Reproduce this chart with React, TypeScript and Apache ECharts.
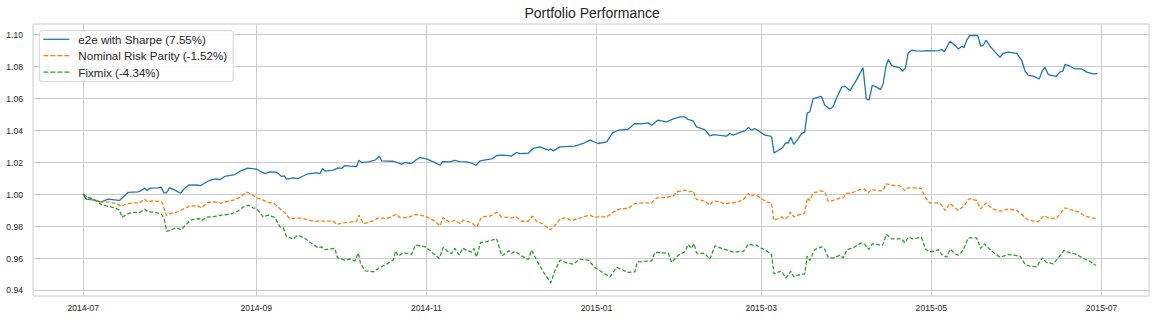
import React, { useEffect, useRef } from "react";
import * as echarts from "echarts";

// Data: [days since 2014-07-01, portfolio value]
const START_UTC = Date.UTC(2014, 6, 1);
const DAY_MS = 86400000;

const seriesNames = [
  "e2e with Sharpe (7.55%)",
  "Nominal Risk Parity (-1.52%)",
  "Fixmix (-4.34%)",
];
const seriesColors = ["#1f77b4", "#ff7f0e", "#2ca02c"];

const xTickLabels = ["2014-07", "2014-09", "2014-11", "2015-01", "2015-03", "2015-05", "2015-07"];
const yTickValues = [0.94, 0.96, 0.98, 1.0, 1.02, 1.04, 1.06, 1.08, 1.1];

const e2eSharpe: [number, number][] = [
  [0, 1.0], [1.1, 0.9971], [3.5, 0.9967], [6.5, 0.9954], [8.9, 0.9971], [11.2, 0.9967], [13.0, 0.9963], [16.0, 1.0013], [19.6, 1.0017], [20.8, 1.0025], [22.0, 1.004], [22.8, 1.0025], [24.1, 1.004], [26.8, 1.0042], [28.0, 1.0046], [28.9, 1.001], [29.8, 1.001], [31.0, 1.0042], [32.7, 1.0029], [34.9, 1.0008], [36.1, 1.0035], [37.8, 1.006], [41.1, 1.0058], [42.1, 1.0056], [44.7, 1.0083], [45.9, 1.0092], [47.7, 1.0098], [48.9, 1.0092], [50.7, 1.0113], [54.3, 1.0125], [56.6, 1.015], [59.0, 1.0165],
  [62.1, 1.0158], [65.1, 1.0131], [66.9, 1.0142], [69.3, 1.014], [71.1, 1.0113], [72.1, 1.0117], [72.9, 1.0096], [75.3, 1.0104], [77.1, 1.01], [80.1, 1.0127], [83.6, 1.0135], [84.8, 1.0131], [85.8, 1.0163], [86.6, 1.0146], [89.6, 1.0152], [91.4, 1.0167], [92.6, 1.0163], [93.8, 1.0181], [95.6, 1.0177], [98.0, 1.0175], [98.8, 1.0215], [99.8, 1.02], [102.2, 1.0204], [104.6, 1.0215], [106.1, 1.024], [107.0, 1.021], [111.1, 1.0208], [114.1, 1.019], [115.3, 1.02], [117.7, 1.0194], [119.5, 1.0219], [120.7, 1.0231],
  [123.1, 1.0223], [125.5, 1.0204], [127.9, 1.0183], [128.8, 1.0206], [131.4, 1.0204], [133.2, 1.0213], [135.0, 1.0206], [137.4, 1.0204], [139.2, 1.0196], [140.8, 1.0183], [142.2, 1.021], [146.4, 1.0223], [148.2, 1.0244], [150.6, 1.0246], [153.5, 1.024], [155.3, 1.0263], [156.5, 1.0256], [159.5, 1.0258], [161.3, 1.0288], [163.7, 1.0298], [166.7, 1.0277], [167.6, 1.0285], [168.5, 1.0273], [170.9, 1.0298], [176.2, 1.0302], [179.2, 1.0319], [181.6, 1.034],
  [184.6, 1.0319], [187.6, 1.0329], [189.7, 1.0385], [191.8, 1.0402], [195.3, 1.0408], [197.7, 1.0444], [200.1, 1.0442], [202.5, 1.0448], [203.7, 1.0433], [205.9, 1.0465], [209.1, 1.0454], [211.5, 1.0473], [213.9, 1.0485], [215.7, 1.0485], [216.8, 1.0469], [218.6, 1.046], [219.8, 1.0423], [222.8, 1.0406], [224.6, 1.0367], [225.8, 1.0375], [230.6, 1.0365], [231.8, 1.0381], [233.0, 1.0371], [235.4, 1.0388], [237.2, 1.0398], [238.4, 1.0419], [239.5, 1.0402], [240.7, 1.0413], [242.5, 1.0392],
  [244.3, 1.0371], [246.7, 1.0363], [247.6, 1.026], [249.1, 1.0275], [250.6, 1.0292], [251.8, 1.0323], [252.7, 1.0321], [253.6, 1.0358], [254.7, 1.0313], [256.2, 1.0348], [257.4, 1.0379], [258.6, 1.039], [259.5, 1.051], [260.4, 1.0515], [261.6, 1.06], [264.6, 1.0613], [265.8, 1.0558], [267.6, 1.0535], [268.8, 1.055], [270.2, 1.061], [271.8, 1.0671], [273.0, 1.0677], [274.8, 1.065], [277.1, 1.0715], [279.5, 1.0792], [280.7, 1.0596], [281.7, 1.0592], [282.8, 1.0683], [284.3, 1.0671], [285.8, 1.0656], [286.7, 1.0692], [287.7, 1.0802], [288.6, 1.0844], [289.8, 1.0806], [292.7, 1.0792], [293.6, 1.0771], [294.7, 1.0792], [295.7, 1.0885], [296.9, 1.0902], [298.7, 1.0898], [301.0, 1.0896], [302.2, 1.09], [305.2, 1.0898],
  [306.5, 1.09], [307.7, 1.0906], [308.6, 1.0892], [310.7, 1.0958], [312.5, 1.0931], [313.7, 1.091], [314.9, 1.0927], [315.7, 1.0917], [316.6, 1.0963], [317.8, 1.0994], [320.6, 1.0994], [321.7, 1.0927], [322.6, 1.0933], [323.6, 1.0965], [325.0, 1.0927], [326.8, 1.0892], [328.6, 1.0858], [329.8, 1.0883], [331.6, 1.089], [334.6, 1.0883], [336.4, 1.0838], [337.6, 1.0771], [338.7, 1.0746], [340.5, 1.074], [342.7, 1.0723], [343.8, 1.0775], [344.7, 1.0796], [345.9, 1.075], [348.7, 1.0738], [350.1, 1.0767], [351.1, 1.0771], [351.9, 1.0813], [353.7, 1.0802], [355.5, 1.0785], [357.9, 1.0785], [359.7, 1.0765], [362.0, 1.0754], [363.5, 1.0756],
];

const riskParity: [number, number][] = [
  [0, 1.0], [1.7, 0.9979], [4.1, 0.9967], [6.5, 0.9952], [9.5, 0.9952], [11.8, 0.9944], [13.6, 0.9925], [15.4, 0.9942], [17.8, 0.9946], [20.2, 0.9948], [22.0, 0.9971], [23.2, 0.9952], [24.4, 0.996], [26.8, 0.9958], [28.2, 0.9952], [28.9, 0.9917], [29.8, 0.9869], [31.6, 0.9883], [34.0, 0.9892], [36.3, 0.9913], [38.1, 0.9927], [41.1, 0.9929], [42.3, 0.9917], [44.7, 0.995], [47.1, 0.9954], [49.5, 0.9946], [51.9, 0.9958], [54.3, 0.9967], [56.6, 0.9988], [58.4, 1.0015], [59.6, 1.0008], [60.8, 0.9996],
  [62.1, 0.9979], [64.5, 0.9965], [66.3, 0.9952], [68.7, 0.994], [71.1, 0.9902], [72.3, 0.9885], [74.1, 0.9848], [76.5, 0.9854], [78.9, 0.985], [81.9, 0.9835], [84.8, 0.9833], [89.6, 0.9835], [90.8, 0.9813], [93.2, 0.9823], [95.6, 0.9827], [98.0, 0.9833], [98.8, 0.9871], [100.4, 0.9819], [102.2, 0.9823], [105.7, 0.9852], [108.7, 0.9852], [110.5, 0.986], [112.1, 0.9877], [113.5, 0.9856], [116.5, 0.9856], [118.9, 0.9875], [120.7, 0.9871], [122.5, 0.9865],
  [125.5, 0.984], [127.9, 0.9804], [129.0, 0.9856], [131.4, 0.9827], [133.2, 0.984], [135.0, 0.9819], [136.2, 0.984], [139.2, 0.9823], [141.0, 0.9798], [142.8, 0.986], [145.8, 0.9865], [148.2, 0.9888], [150.0, 0.986], [153.5, 0.9854], [155.3, 0.986], [157.1, 0.9833], [159.5, 0.9833], [161.0, 0.9865], [162.5, 0.9833], [164.9, 0.9815], [167.5, 0.9779], [169.7, 0.9819], [170.9, 0.985], [173.3, 0.9854], [175.0, 0.9835], [179.2, 0.986], [181.6, 0.9871], [183.4, 0.9856],
  [184.0, 0.986], [187.6, 0.986], [190.0, 0.9892], [192.4, 0.991], [195.3, 0.9913], [197.7, 0.9944], [201.3, 0.9948], [203.7, 0.9948], [205.5, 0.9979], [208.5, 0.9981], [211.5, 0.999], [212.7, 1.0017], [215.7, 1.0027], [217.4, 1.0017], [218.6, 1.0023], [219.8, 0.9969], [222.8, 0.996], [224.6, 0.9933], [225.8, 0.996], [228.2, 0.9954], [230.0, 0.994], [231.8, 0.995], [234.2, 0.995], [236.6, 0.9969], [238.4, 1.0006], [239.5, 0.999], [240.7, 1.0002], [243.1, 0.9975],
  [244.9, 0.9952], [246.7, 0.9948], [247.5, 0.9838], [249.1, 0.985], [250.3, 0.986], [251.5, 0.9846], [252.7, 0.9863], [253.5, 0.989], [254.7, 0.986], [256.2, 0.9871], [258.6, 0.9883], [259.5, 0.9979], [260.4, 0.9963], [261.6, 1.001], [264.6, 1.0023], [265.8, 1.0017], [267.0, 0.9958], [268.8, 0.9963], [270.6, 0.9975], [272.4, 0.9979], [273.6, 1.0008], [275.4, 1.001], [278.3, 1.0031], [280.1, 1.0033], [281.3, 1.001], [282.5, 1.0031], [285.5, 1.0023], [286.7, 1.0025], [287.7, 1.0067], [289.7, 1.0058], [292.7, 1.0054], [294.5, 1.0025], [295.7, 1.0042], [297.5, 1.0042], [300.4, 1.0038], [301.9, 0.9979], [303.4, 0.9948], [305.2, 0.9948],
  [306.5, 0.9948], [307.7, 0.9933], [308.9, 0.99], [310.7, 0.9944], [312.5, 0.9917], [313.7, 0.9902], [315.4, 0.9923], [317.6, 0.9975], [320.2, 0.9963], [321.7, 0.991], [322.9, 0.9938], [323.8, 0.9946], [325.6, 0.9913], [328.6, 0.9896], [331.6, 0.991], [334.6, 0.99], [336.4, 0.9875], [338.7, 0.984], [342.3, 0.9829], [344.4, 0.9869], [345.9, 0.9854], [348.7, 0.985], [350.1, 0.9879], [351.9, 0.9917], [353.7, 0.9906], [356.7, 0.9892], [359.1, 0.9865], [361.4, 0.9854], [363.5, 0.985],
];

const fixmix: [number, number][] = [
  [0, 1.0004], [1.1, 0.9988], [3.5, 0.9971], [6.5, 0.9938], [8.3, 0.9929], [11.2, 0.9917], [13.0, 0.9904], [13.9, 0.9858], [16.0, 0.9879], [17.8, 0.9888], [20.2, 0.9888], [22.0, 0.9908], [23.2, 0.9892], [25.0, 0.989], [26.8, 0.9883], [28.2, 0.9875], [29.2, 0.9838], [29.9, 0.9769], [31.6, 0.9779], [33.3, 0.9792], [35.1, 0.9779], [36.9, 0.9813], [38.7, 0.9842], [41.7, 0.985], [42.5, 0.9838], [44.1, 0.9858], [47.1, 0.9863], [49.5, 0.9871], [53.1, 0.9879], [55.4, 0.9896], [57.2, 0.9921], [59.3, 0.9933], [60.8, 0.9917],
  [62.1, 0.9913], [64.5, 0.986], [66.3, 0.9871], [68.7, 0.9856], [70.5, 0.9798], [71.7, 0.9792], [72.9, 0.9735], [75.3, 0.9723], [77.1, 0.9746], [79.5, 0.9725], [81.9, 0.9694], [84.2, 0.9667], [85.4, 0.9673], [86.6, 0.9656], [90.2, 0.9663], [91.1, 0.9606], [93.8, 0.959], [95.6, 0.9596], [97.4, 0.9585], [98.0, 0.961], [98.6, 0.9635], [99.4, 0.9569], [101.0, 0.9523], [104.0, 0.9517], [105.8, 0.9538], [108.7, 0.9565], [111.1, 0.959], [112.0, 0.9646], [112.9, 0.9615], [114.7, 0.9635], [117.7, 0.9627], [119.1, 0.9685], [122.5, 0.9673],
  [123.1, 0.9667], [125.5, 0.9631], [127.6, 0.96], [129.0, 0.9669], [130.8, 0.9642], [132.0, 0.9631], [133.2, 0.9663], [134.8, 0.9621], [136.0, 0.9665], [137.4, 0.9652], [139.2, 0.964], [140.0, 0.9663], [141.0, 0.961], [142.4, 0.97], [144.6, 0.9706], [148.2, 0.9723], [150.0, 0.9617], [152.7, 0.9648], [153.5, 0.9631], [154.7, 0.9644], [157.1, 0.9617], [159.5, 0.9594], [160.7, 0.9652], [162.5, 0.959], [164.9, 0.9517], [167.6, 0.9448], [169.1, 0.9527], [170.9, 0.959], [173.3, 0.9573], [175.6, 0.9565], [178.0, 0.9596], [181.0, 0.959], [183.4, 0.9544],
  [185.8, 0.9517], [188.8, 0.9485], [191.2, 0.9544], [193.5, 0.9527], [195.3, 0.9513], [197.7, 0.9517], [198.6, 0.9579], [203.7, 0.9585], [204.9, 0.9638], [209.7, 0.9633], [210.9, 0.9575], [213.3, 0.9621], [215.7, 0.9642], [216.8, 0.9688], [218.0, 0.9663], [218.9, 0.9694], [219.8, 0.9635], [222.8, 0.9631], [224.6, 0.9596], [226.4, 0.9679], [229.4, 0.966], [233.0, 0.964], [236.6, 0.9644], [238.4, 0.969], [240.1, 0.9683], [241.3, 0.9685], [243.1, 0.9663], [244.3, 0.9656],
  [246.7, 0.9625], [247.6, 0.9504], [249.1, 0.9515], [250.3, 0.9521], [251.8, 0.9479], [252.7, 0.9494], [253.6, 0.9521], [254.7, 0.9485], [256.2, 0.9496], [258.6, 0.9504], [259.5, 0.9615], [260.4, 0.9588], [262.2, 0.9656], [264.6, 0.9673], [265.8, 0.9656], [267.0, 0.9608], [268.8, 0.9602], [271.2, 0.9621], [272.4, 0.9604], [273.8, 0.9656], [276.0, 0.9667], [278.9, 0.9698], [280.1, 0.9688], [281.6, 0.9656], [282.8, 0.9692], [284.3, 0.9688], [286.5, 0.9683], [287.9, 0.975], [289.7, 0.9723], [293.3, 0.9723], [294.5, 0.9698], [295.7, 0.9733], [297.5, 0.9723], [300.4, 0.9733], [302.0, 0.9656], [303.4, 0.9642], [305.2, 0.9646],
  [306.5, 0.9656], [307.7, 0.9625], [309.5, 0.9608], [310.7, 0.9658], [312.5, 0.9629], [313.7, 0.9621], [315.4, 0.9652], [317.2, 0.9729], [320.2, 0.9729], [321.7, 0.9663], [322.9, 0.9692], [323.8, 0.9677], [325.6, 0.9646], [328.6, 0.9608], [331.6, 0.9625], [335.8, 0.9615], [337.6, 0.9563], [339.3, 0.9552], [341.7, 0.9548], [343.8, 0.9604], [345.1, 0.9577], [347.7, 0.9567], [349.5, 0.9604], [351.5, 0.965], [353.7, 0.9635], [356.1, 0.9625], [358.5, 0.96], [360.8, 0.9583], [363.0, 0.9556],
];

const allSeries = [e2eSharpe, riskParity, fixmix];
const dashed = [false, true, true];

// Day offset (from 2014-07-01) of a "YYYY-MM" month start
const toDay = (label: string) => {
  const [y, m] = label.split("-").map(Number);
  return Math.round((Date.UTC(y, m - 1, 1) - START_UTC) / DAY_MS);
};

const FONT = "'Liberation Sans', Arial, 'DejaVu Sans', sans-serif";
const TEXT = "#262626";
const GRID = "#cccccc";

export default function App() {
  const ref = useRef<HTMLDivElement>(null);

  useEffect(() => {
    if (!ref.current) return;
    const chart = echarts.init(ref.current, undefined, { renderer: "svg" });
    const xTicks = xTickLabels.map(toDay);
    const labelByDay: Record<number, string> = {};
    xTickLabels.forEach((l, i) => (labelByDay[xTicks[i]] = l));

    chart.setOption({
      animation: false,
      backgroundColor: "#ffffff",
      title: {
        text: "Portfolio Performance",
        left: 524.5,
        top: 5,
        padding: 0,
        textStyle: { fontFamily: FONT, fontSize: 14, fontWeight: "normal", color: TEXT, lineHeight: 15 },
      },
      legend: {
        orient: "vertical",
        left: 39.3,
        top: 30.7,
        padding: [1.6, 6, 2.5, 3.4],
        itemWidth: 26,
        itemHeight: 14,
        itemGap: 2.4,
        backgroundColor: "rgba(255,255,255,0.85)",
        borderColor: "#d4d4d4",
        borderWidth: 1,
        borderRadius: 3,
        itemStyle: { opacity: 0, borderWidth: 0 },
        textStyle: { fontFamily: FONT, fontSize: 11.6, color: TEXT, lineHeight: 14, padding: [0, 0, 0, 4] },
        data: seriesNames.map((name, i) => ({
          name,
          lineStyle: { width: 1.3, type: dashed[i] ? [5, 2] : "solid" },
        })),
      },
      grid: {
        left: 33,
        right: 6,
        top: 24,
        bottom: 24,
        show: true,
        borderColor: GRID,
        borderWidth: 1,
        containLabel: false,
      },
      xAxis: {
        type: "value",
        min: -18,
        max: 382,
        axisLine: { show: false },
        axisTick: { show: false, customValues: xTicks },
        splitLine: { show: true, lineStyle: { color: GRID, width: 1 } },
        axisLabel: {
          customValues: xTicks,
          formatter: (v: number) => labelByDay[Math.round(v)] ?? "",
          fontFamily: FONT,
          fontSize: 8.6,
          color: TEXT,
          margin: 7,
        },
      },
      yAxis: {
        type: "value",
        min: 0.93656,
        max: 1.1066,
        axisLine: { show: false },
        axisTick: { show: false, customValues: yTickValues },
        splitLine: { show: true, lineStyle: { color: GRID, width: 1 } },
        axisLabel: {
          customValues: yTickValues,
          formatter: (v: number) => v.toFixed(2),
          fontFamily: FONT,
          fontSize: 8.6,
          color: TEXT,
          margin: 10,
        },
      },
      series: allSeries.map((pts, i) => ({
        name: seriesNames[i],
        type: "line",
        symbol: "none",
        showSymbol: false,
        smooth: false,
        color: seriesColors[i],
        lineStyle: { color: seriesColors[i], width: 1.3, type: dashed[i] ? [4, 2] : "solid" },
        data: pts,
        z: 2 + i,
      })),
    });

    return () => chart.dispose();
  }, []);

  return (
    <div
      ref={ref}
      style={{ position: "absolute", left: 0, top: 0, width: 1155, height: 320, background: "#fff" }}
    />
  );
}
